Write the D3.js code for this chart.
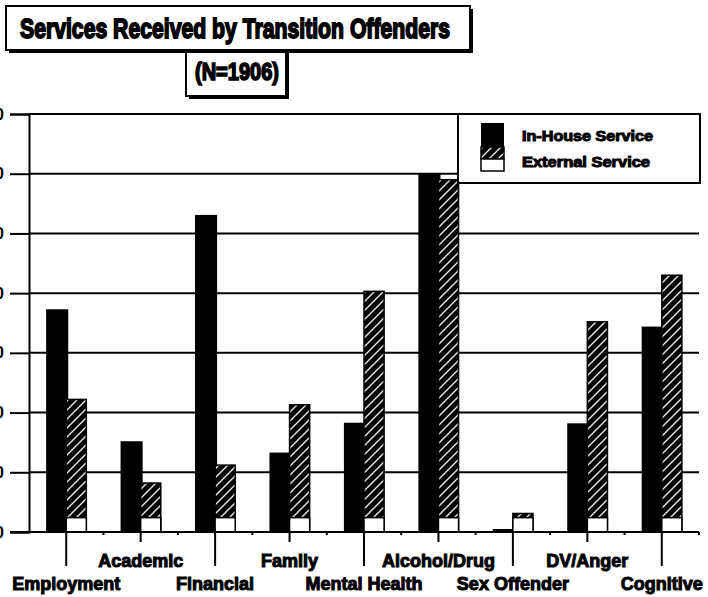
<!DOCTYPE html>
<html>
<head>
<meta charset="utf-8">
<script src="https://cdn.jsdelivr.net/npm/d3@7"></script>
<style>
  html, body { margin: 0; padding: 0; background: #fff; }
  svg { display: block; }
  text { font-family: "Liberation Sans", Arial, sans-serif; font-weight: bold; fill: #000; }
</style>
</head>
<body>
<svg id="chart" width="708" height="597"></svg>
<script>
// ---- data ----
const categories = ["Employment", "Academic", "Financial", "Family", "Mental Health",
                    "Alcohol/Drug", "Sex Offender", "DV/Anger", "Cognitive"];
const inHouse  = [37.3, 15.2, 53.1, 13.3, 18.3, 60.0, 0.5, 18.2, 34.4];
const external = [22.2,  8.2, 11.2, 21.3, 40.3, 59.0, 3.1, 35.2, 43.0];
const other    = [ 2.4,  2.4,  2.4,  2.4,  2.4,  2.4, 2.4,  2.4,  2.4];
const yTicks = [0, 10, 20, 30, 40, 50, 60, 70];
const seriesNames = ["In-House Service", "External Service", ""];
const titleText = "Services Received by Transition Offenders";
const subtitleText = "(N=1906)";

const svg = d3.select("#chart");
const defs = svg.append("defs");
const pat = defs.append("pattern").attr("id", "hatch")
  .attr("patternUnits", "userSpaceOnUse").attr("width", 9).attr("height", 9);
pat.append("rect").attr("width", 9).attr("height", 9).attr("fill", "#000");
pat.append("path").attr("d", "M-2,2 L2,-2 M0,9 L9,0 M7,11 L11,7")
  .attr("stroke", "#e8e8e8").attr("stroke-width", 1.4);

// ---- scales ----
const plotL = 29, plotR = 699, plotT = 114, plotB = 532;
const x = d3.scaleBand().domain(categories).range([plotL, plotR])
  .paddingInner(0.46).paddingOuter(0.23);
const x1 = d3.scaleBand().domain(["in", "ext"]).range([0, x.bandwidth()]);
const y = d3.scaleLinear().domain([0, 70]).range([plotB, plotT]);

// ---- gridlines ----
svg.append("g").selectAll("line").data(yTicks).join("line")
  .attr("x1", plotL).attr("x2", plotR)
  .attr("y1", d => y(d)).attr("y2", d => y(d))
  .attr("stroke", "#000").attr("stroke-width", 2);

// ---- y axis ----
const yAxis = svg.append("g").attr("transform", `translate(${plotL},0)`)
  .call(d3.axisLeft(y).tickValues(yTicks).tickSize(19).tickPadding(6));
yAxis.select(".domain").attr("stroke-width", 2);
yAxis.selectAll(".tick line").attr("stroke-width", 2);
yAxis.selectAll(".tick text").attr("font-size", 16).attr("font-weight", "bold")
  .attr("font-family", "Liberation Sans, Arial, sans-serif");

// ---- bars ----
const data = categories.map((c, i) => ({c, a: inHouse[i], b: external[i], o: other[i]}));
const g = svg.append("g");
g.selectAll(".bin").data(data).join("rect").attr("class", "bin")
  .attr("x", d => x(d.c) + x1("in"))
  .attr("width", x1.bandwidth() + 2)
  .attr("y", d => y(d.a)).attr("height", d => y(0) - y(d.a))
  .attr("fill", "#000");
g.selectAll(".bext").data(data).join("rect").attr("class", "bext")
  .attr("x", d => x(d.c) + x1("ext"))
  .attr("width", x1.bandwidth())
  .attr("y", d => y(d.b)).attr("height", d => y(0) - y(d.b))
  .attr("fill", "url(#hatch)").attr("stroke", "#000").attr("stroke-width", 1.5);
g.selectAll(".both").data(data).join("rect").attr("class", "both")
  .attr("x", d => x(d.c) + x1("ext"))
  .attr("width", x1.bandwidth())
  .attr("y", d => y(d.o)).attr("height", d => y(0) - y(d.o))
  .attr("fill", "#fff").attr("stroke", "#000").attr("stroke-width", 1.5);

// ---- x axis ----
const xa = svg.append("g");
xa.append("line").attr("x1", 10).attr("x2", plotR).attr("y1", plotB).attr("y2", plotB)
  .attr("stroke", "#000").attr("stroke-width", 2);
const step = x.step();
xa.selectAll(".bt").data(categories).join("line").attr("class", "bt")
  .attr("x1", d => x(d) + x.bandwidth() / 2 + step / 2)
  .attr("x2", d => x(d) + x.bandwidth() / 2 + step / 2)
  .attr("y1", plotB).attr("y2", plotB + 3)
  .attr("stroke", "#000").attr("stroke-width", 2);
xa.selectAll(".ct").data(categories).join("line").attr("class", "ct")
  .attr("x1", d => x(d) + x.bandwidth() / 2)
  .attr("x2", d => x(d) + x.bandwidth() / 2)
  .attr("y1", plotB).attr("y2", (d, i) => plotB + (i % 2 === 0 ? 34 : 10))
  .attr("stroke", "#000").attr("stroke-width", 2);
xa.selectAll(".cl").data(categories).join("text").attr("class", "cl")
  .attr("x", d => x(d) + x.bandwidth() / 2)
  .attr("y", (d, i) => i % 2 === 0 ? 590 : 567)
  .attr("text-anchor", "middle").attr("font-size", 18)
  .attr("stroke", "#000").attr("stroke-width", 1)
  .text(d => d);

// ---- title boxes ----
function box(xx, yy, w, h) {
  svg.append("rect").attr("x", xx + 3).attr("y", yy + 3).attr("width", w).attr("height", h).attr("fill", "#000");
  svg.append("rect").attr("x", xx).attr("y", yy).attr("width", w).attr("height", h)
    .attr("fill", "#fff").attr("stroke", "#000").attr("stroke-width", 2);
}
box(186, 50, 100, 46);
box(6, 6, 464, 44);
svg.append("text").attr("x", 20).attr("y", 38).attr("font-size", 28)
  .attr("textLength", 430).attr("lengthAdjust", "spacingAndGlyphs")
  .attr("stroke", "#000").attr("stroke-width", 1.8)
  .text(titleText);
svg.append("text").attr("x", 195).attr("y", 80).attr("font-size", 24)
  .attr("textLength", 84).attr("lengthAdjust", "spacingAndGlyphs")
  .attr("stroke", "#000").attr("stroke-width", 1.6)
  .text(subtitleText);

// ---- legend ----
const lg = svg.append("g");
lg.append("rect").attr("x", 458).attr("y", 114).attr("width", 242).attr("height", 69)
  .attr("fill", "#fff").attr("stroke", "#000").attr("stroke-width", 2);
const sw = [
  {fill: "#000", y: 123, h: 24, stroke: "none"},
  {fill: "url(#hatch)", y: 147, h: 12, stroke: "#000"},
  {fill: "#fff", y: 159, h: 12, stroke: "#000"}
];
lg.selectAll(".sw").data(sw).join("rect").attr("class", "sw")
  .attr("x", 481).attr("y", d => d.y).attr("width", 23).attr("height", d => d.h)
  .attr("fill", d => d.fill).attr("stroke", d => d.stroke).attr("stroke-width", 1.5);
lg.selectAll(".lt").data(seriesNames.filter(s => s)).join("text").attr("class", "lt")
  .attr("x", 522).attr("y", (d, i) => 141 + i * 26)
  .attr("font-size", 14)
  .attr("textLength", (d, i) => i === 0 ? 131 : 128).attr("lengthAdjust", "spacingAndGlyphs")
  .attr("stroke", "#000").attr("stroke-width", 1)
  .text(d => d);
</script>
</body>
</html>
